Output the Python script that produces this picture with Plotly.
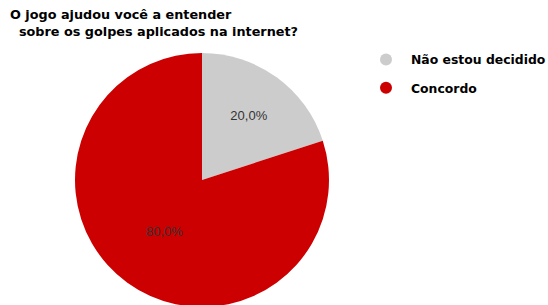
import plotly.graph_objects as go

labels = ["Não estou decidido", "Concordo"]
values = [20, 80]
colors = ["#cccccc", "#cc0000"]
title_lines = ["O jogo ajudou você a entender", "\u00a0\u00a0sobre os golpes aplicados na internet?"]

W, H = 548, 320

fig = go.Figure()
fig.add_trace(go.Pie(
    labels=labels, values=values, sort=False, direction="clockwise", rotation=0,
    marker=dict(colors=colors, line=dict(width=0)),
    texttemplate="%{percent:.1%}", textposition="inside",
    insidetextorientation="horizontal",
    textfont=dict(family="Liberation Sans, Arial", size=13, color="#333333"),
    showlegend=False, hoverinfo="skip",
    domain=dict(x=[75 / W, 329 / W], y=[1 - 307 / H, 1 - 53 / H]),
))
for i, (lab, col) in enumerate(zip(labels, colors)):
    fig.add_trace(go.Scatter(
        x=[None], y=[None], mode="markers", name=lab, legendgroup=f"g{i}",
        marker=dict(symbol="circle", size=12, color=col),
    ))

fig.update_layout(
    width=W, height=H, margin=dict(l=0, r=0, t=0, b=0, autoexpand=False),
    paper_bgcolor="white", plot_bgcolor="white",
    separators=",.",
    xaxis=dict(visible=False), yaxis=dict(visible=False),
    title=dict(text="<br>".join(title_lines), x=10 / W, xanchor="left",
               y=1 - 19 / H, yanchor="top",
               font=dict(family="DejaVu Sans", size=12.8, color="#000000", weight="bold")),
    legend=dict(x=361 / W, xanchor="left", y=1 - 45 / H, yanchor="top",
                font=dict(family="DejaVu Sans", size=12.4, color="#000000", weight="bold"),
                tracegroupgap=9, itemwidth=40, bgcolor="rgba(0,0,0,0)"),
)

fig.write_html("out.html", config={"displayModeBar": False},
               post_script="document.body.style.overflow='hidden';document.body.style.margin='0';")
